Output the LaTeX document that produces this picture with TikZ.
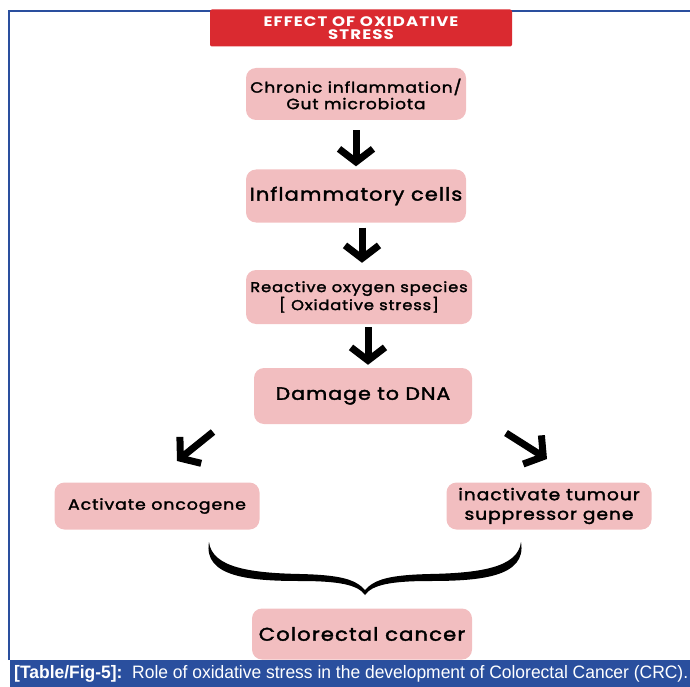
\documentclass[tikz,border=0pt]{standalone}
\usepackage{fontspec}
\setmainfont{Poppins}[FakeStretch=1.15, FakeBold=2, LetterSpace=6]
\newfontfamily\titlefont{Poppins}[FakeStretch=1.2, LetterSpace=8]
\newfontfamily\capfont{Liberation Sans}
\usetikzlibrary{arrows.meta}
\definecolor{boxpink}{HTML}{F2BEC0}
\definecolor{titlered}{HTML}{DA2A30}
\definecolor{frameblue}{HTML}{2A4F9E}
\tikzset{
  stepbox/.style={fill=boxpink, rounded corners=10pt, align=center, inner sep=0pt},
  downarrow/.style={line width=7pt, -{Straight Barb[length=13pt, width=34pt]}}
}
\begin{document}
\begin{tikzpicture}[x=1pt,y=-1pt]
\useasboundingbox (0,0) rectangle (690,687);
% frame and caption bar
\draw[frameblue, line width=1.5pt] (9,660) -- (9,11) -- (690,11);
\fill[frameblue] (10,660) rectangle (690,687);
\node[anchor=west, text=white, xscale=0.97, inner sep=0pt, font=\capfont\fontsize{18}{20}\selectfont] (caption) at (14,674)
  {\textbf{[Table/Fig-5]:}\ \ Role of oxidative stress in the development of Colorectal Cancer (CRC).};

% title
\node[fill=titlered, rounded corners=2pt, minimum width=302pt, minimum height=37pt, inner sep=0pt,
  text=white, align=center, font=\titlefont\bfseries\fontsize{13.8}{13}\selectfont] (title) at (361,28)
  {EFFECT OF OXIDATIVE\\STRESS};

% chain of boxes
\node[stepbox, minimum width=220pt, minimum height=52pt, font=\fontsize{14.8}{16.5}\selectfont] (chronic) at (356,94) {Chronic inflammation/\\Gut microbiota};
\node[stepbox, minimum width=220pt, minimum height=53pt, font=\fontsize{18.2}{20}\selectfont] (cells) at (356,196) {Inflammatory cells};
\node[stepbox, minimum width=226pt, minimum height=54pt, font=\fontsize{14.2}{18}\selectfont] (ros) at (359,297) {Reactive oxygen species\\{[} Oxidative stress]};
\node[stepbox, minimum width=218pt, minimum height=56pt, font=\fontsize{17.8}{20}\selectfont] (dna) at (363,396) {Damage to DNA};
\node[stepbox, minimum width=205pt, minimum height=47pt, font=\fontsize{15.1}{18}\selectfont] (onco) at (157,506) {Activate oncogene};
\node[stepbox, minimum width=205pt, minimum height=47pt, font=\fontsize{16.2}{19.5}\selectfont] (tumour) at (549,506) {inactivate tumour\\suppressor gene};
\node[stepbox, minimum width=220pt, minimum height=51pt, font=\fontsize{18.4}{20}\selectfont] (crc) at (362,634) {Colorectal cancer};

% arrows
\draw[downarrow, shorten <=10pt, shorten >=3pt] (chronic.south) -- (cells.north);
\draw[downarrow, shorten <=5pt, shorten >=7pt] ([xshift=6pt]cells.south) -- ([xshift=3pt]ros.north);
\draw[downarrow, shorten <=3pt, shorten >=3pt] ([xshift=9pt]ros.south) -- ([xshift=5pt]dna.north);
\coordinate (l1) at (213,432);
\coordinate (l2) at (177,461);
\coordinate (r1) at (506,433);
\coordinate (r2) at (547,459);
\draw[downarrow] (l1) -- (l2);
\draw[downarrow] (r1) -- (r2);

% brace
\foreach \s in {1,-1} {
  \begin{scope}[shift={(365,0)}, xscale=\s]
    \fill[black] (-156,542) .. controls (-162,577) and (-115,581) .. (-65,581)
      .. controls (-25,581) and (-7,585) .. (0,595)
      -- (0,590) .. controls (-10,579) and (-25,575) .. (-65,574)
      .. controls (-113,573) and (-153,568) .. (-156,542) -- cycle;
  \end{scope}
}
\end{tikzpicture}
\end{document}
